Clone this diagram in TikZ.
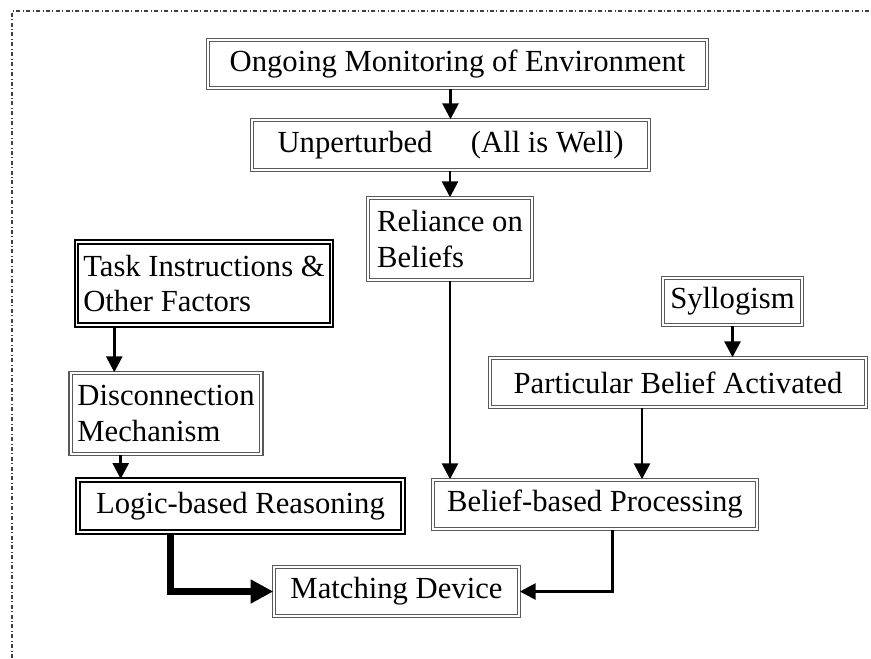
\documentclass[tikz,border=0pt]{standalone}
\usepackage{fontspec}
\setmainfont{Liberation Serif}
\usepackage{tikz}
\usetikzlibrary{arrows.meta}

\tikzset{
  box/.style={draw=black!65, double=white, double distance=1.3pt, line width=1.1pt,
    fill=white, inner xsep=5pt, align=left, font=\fontsize{23}{26.5}\selectfont},
  heavybox/.style={box, draw=black, line width=1.5pt},
  flow/.style={line width=2.1pt, -{Triangle[length=12pt,width=12pt]}},
  heavyflow/.style={line width=5pt, -{Triangle[length=17pt,width=17pt]}},
}

\begin{document}
\begin{tikzpicture}[x=0.75pt, y=-0.75pt]
      \useasboundingbox (0,0) rectangle (871,658);
      \draw[dash dot, black!75, line width=0.8pt] (12,658) -- (12,11) -- (871,11);

      \node[box, minimum width=499*0.75pt, minimum height=48*0.75pt] (mon) at (457.5,64) {Ongoing Monitoring of Environment};
      \node[box, minimum width=397*0.75pt, minimum height=50*0.75pt] (unp) at (450.5,145) {Unperturbed\hspace{1em} (All is Well)};
      \node[box, minimum width=164*0.75pt, minimum height=82*0.75pt] (rel) at (450,239) {Reliance on\\Beliefs};
      \node[heavybox, minimum width=252*0.75pt, minimum height=83*0.75pt] (task) at (204,283.5) {Task Instructions \&\\Other Factors};
      \node[box, minimum width=139*0.75pt, minimum height=47*0.75pt] (syl) at (732.5,301.5) {Syllogism};
      \node[box, minimum width=376*0.75pt, minimum height=49*0.75pt] (part) at (678,382.5) {Particular Belief Activated};
      \node[box, minimum width=188*0.75pt, minimum height=81*0.75pt] (disc) at (166,413.5) {Disconnection\\Mechanism};
      \node[heavybox, minimum width=325*0.75pt, minimum height=52*0.75pt] (logic) at (240.5,506) {Logic-based Reasoning};
      \node[box, minimum width=324*0.75pt, minimum height=49*0.75pt] (belief) at (595,504.5) {Belief-based Processing};
      \node[box, minimum width=245*0.75pt, minimum height=49*0.75pt] (match) at (396.5,591.5) {Matching Device};

      \draw[flow] (mon.south -| unp.north) -- (unp.north);
      \draw[flow] (unp.south -| rel.north) -- (rel.north);
      \draw[flow] (rel.south) -- (rel.south |- belief.north);
      \draw[flow] (syl.south) -- (syl.south |- part.north);
      \draw[flow] ([xshift=-27pt]part.south) -- ([xshift=-27pt]part.south |- belief.north);
      \draw[flow] ([xshift=29pt]task.south west) -- ([xshift=29pt]task.south west |- disc.north);
      \draw[flow] ([xshift=38pt]disc.south west) -- ([xshift=38pt]disc.south west |- logic.north);
      \draw[heavyflow] ([xshift=70pt]logic.south west) |- (match.west);
      \draw[flow] ([xshift=13pt]belief.south) |- (match.east);
\end{tikzpicture}
\end{document}
